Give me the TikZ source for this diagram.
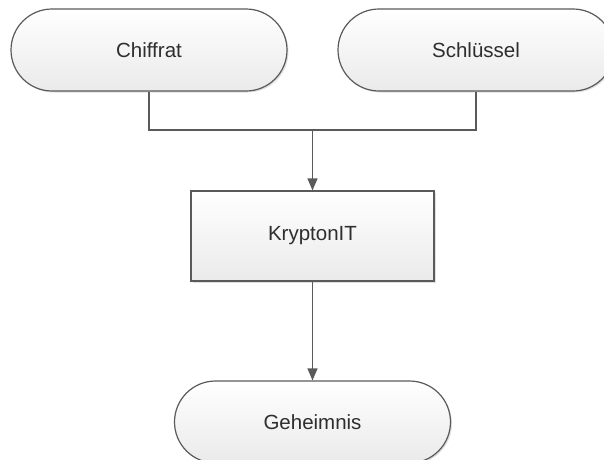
\documentclass[tikz,border=0pt]{standalone}
\usepackage{fontspec}
\setmainfont{Liberation Sans}
\usetikzlibrary{arrows.meta,shadows}
\definecolor{edge}{HTML}{5A5A5A}
\definecolor{ink}{HTML}{2E2E2E}
\definecolor{fillbot}{HTML}{EAEAEA}
\tikzset{
  base/.style={draw=edge, line width=1.2pt, top color=white, bottom color=fillbot,
    text=ink, font=\fontsize{20.5}{24}\selectfont, inner sep=0pt,
    drop shadow={shadow xshift=1.5pt, shadow yshift=-1.5pt, opacity=0.25, fill=gray}},
  terminal/.style={base, minimum width=276pt, minimum height=82pt, rounded corners=41pt},
  process/.style={base, minimum width=243pt, minimum height=90pt},
  link/.style={draw=edge, line width=1.2pt},
  arrowlink/.style={link, -{Triangle[width=10pt,length=12pt]}}
}
\begin{document}
\begin{tikzpicture}[x=1pt,y=-1pt]
  \useasboundingbox (0,0) rectangle (604,459);
  \clip (0,0) rectangle (604,459);
  \node[terminal] (chiffrat) at (149,50) {Chiffrat};
  \node[terminal] (schluessel) at (476,50) {Schlüssel};
  \node[process] (krypton) at (312.5,236) {KryptonIT};
  \node[terminal] (geheimnis) at (312.5,422) {Geheimnis};
  \coordinate (join) at (312.5,130);
  \draw[link] (chiffrat.south) |- (join) -| (schluessel.south);
  \draw[arrowlink] (join) -- (krypton.north);
  \draw[arrowlink] (krypton.south) -- (geheimnis.north);
\end{tikzpicture}
\end{document}
